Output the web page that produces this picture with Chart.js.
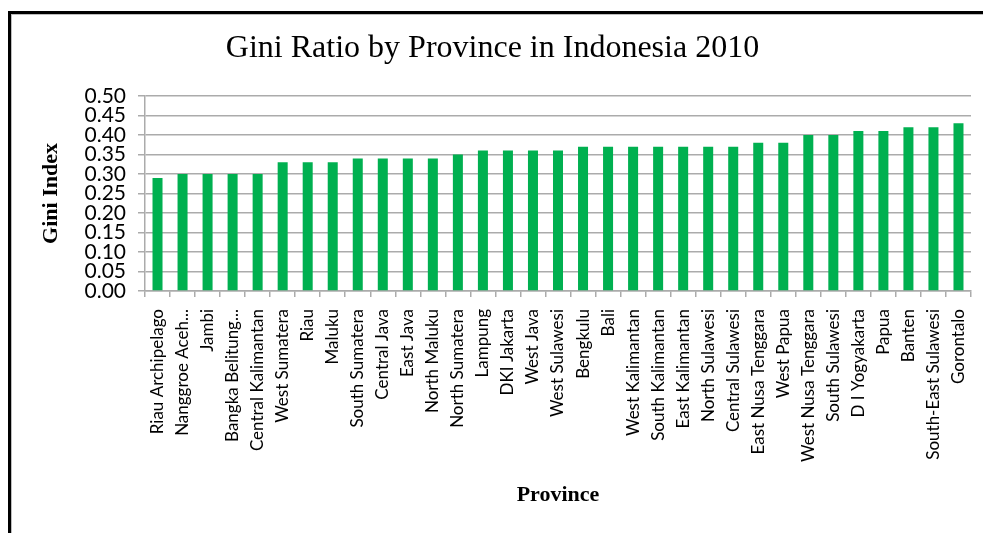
<!DOCTYPE html>
<html>
<head>
<meta charset="utf-8">
<script src="https://cdn.jsdelivr.net/npm/chart.js@4/dist/chart.umd.min.js"></script>
<style>
  html, body { margin: 0; padding: 0; background: #fff; overflow: hidden; }
  #wrap { position: relative; width: 983px; height: 533px; }
  #frame {
    position: absolute; left: 8px; top: 11px; width: 1000px; height: 540px;
    border-top: 3px solid #000; border-left: 3px solid #000;
    box-shadow: inset 1px 1px 0 #bdbdbd; pointer-events: none;
  }
  canvas { position: absolute; left: 0; top: 0; }
</style>
</head>
<body>
<div id="wrap">
  <canvas id="chart" width="983" height="533"></canvas>
  <div id="frame"></div>
</div>
<script>
// Gini ratio per province, 2010, sorted from lowest to highest
const provinces = [
  "Riau Archipelago", "Nanggroe Aceh...", "Jambi", "Bangka Belitung...",
  "Central Kalimantan", "West Sumatera", "Riau", "Maluku", "South Sumatera",
  "Central Java", "East Java", "North Maluku", "North Sumatera", "Lampung",
  "DKI Jakarta", "West Java", "West Sulawesi", "Bengkulu", "Bali",
  "West Kalimantan", "South Kalimantan", "East Kalimantan", "North Sulawesi",
  "Central Sulawesi", "East Nusa Tenggara", "West Papua", "West Nusa Tenggara",
  "South Sulawesi", "D I Yogyakarta", "Papua", "Banten", "South-East Sulawesi",
  "Gorontalo"
];
const giniValues = [
  0.29, 0.30, 0.30, 0.30, 0.30, 0.33, 0.33, 0.33, 0.34, 0.34, 0.34, 0.34,
  0.35, 0.36, 0.36, 0.36, 0.36, 0.37, 0.37, 0.37, 0.37, 0.37, 0.37, 0.37,
  0.38, 0.38, 0.40, 0.40, 0.41, 0.41, 0.42, 0.42, 0.43
];
const yMin = 0.00, yMax = 0.50, yStep = 0.05;

const titleText = "Gini Ratio by Province in Indonesia 2010";
const yTitle = "Gini Index";
const xTitle = "Province";

const gridGrey = "#ababab";
const barGreen = "#00B050";

new Chart(document.getElementById("chart"), {
  type: "bar",
  data: {
    labels: provinces,
    datasets: [{
      data: giniValues,
      backgroundColor: barGreen,
      borderWidth: 0,
      barPercentage: 0.4,
      categoryPercentage: 1.0
    }]
  },
  options: {
    responsive: false,
    animation: false,
    devicePixelRatio: 1,
    layout: { padding: { top: 12, left: 14, right: 12, bottom: 0 } },
    plugins: {
      legend: { display: false },
      tooltip: { enabled: false },
      title: {
        display: true,
        text: titleText,
        color: "#000",
        font: { family: "'Liberation Serif', serif", size: 32, weight: "normal" },
        padding: { top: 17, bottom: 28.6 }
      }
    },
    scales: {
      x: {
        grid: {
          offset: true,
          drawOnChartArea: false,
          drawTicks: true,
          tickLength: 6,
          color: gridGrey,
          lineWidth: 1.5
        },
        border: { color: gridGrey, width: 1.5 },
        ticks: {
          autoSkip: false,
          minRotation: 90,
          maxRotation: 90,
          padding: 12,
          color: "#000",
          font: { family: "Lato, sans-serif", size: 17 }
        },
        title: {
          display: true,
          text: xTitle,
          color: "#000",
          font: { family: "'Liberation Serif', serif", size: 22, weight: "bold" },
          padding: { top: 0, bottom: 24 }
        },
        afterFit(scale) {
          scale.height = 533 - 291;
          scale.paddingLeft = 0;
          scale.paddingRight = 0;
        }
      },
      y: {
        min: yMin,
        max: yMax,
        grid: {
          color: gridGrey,
          lineWidth: 1.5,
          tickLength: 7
        },
        border: { color: gridGrey, width: 1.5 },
        ticks: {
          stepSize: yStep,
          autoSkip: false,
          padding: 12,
          color: "#000",
          font: { family: "Lato, sans-serif", size: 21 },
          callback: (v) => Number(v).toFixed(2)
        },
        title: {
          display: true,
          text: yTitle,
          color: "#000",
          font: { family: "'Liberation Serif', serif", size: 22, weight: "bold" },
          padding: { top: 24, bottom: 0 }
        },
        afterFit(scale) {
          scale.width = 145 - 14;
          scale.paddingTop = 0;
          scale.paddingBottom = 0;
        }
      }
    }
  }
});
</script>
</body>
</html>
